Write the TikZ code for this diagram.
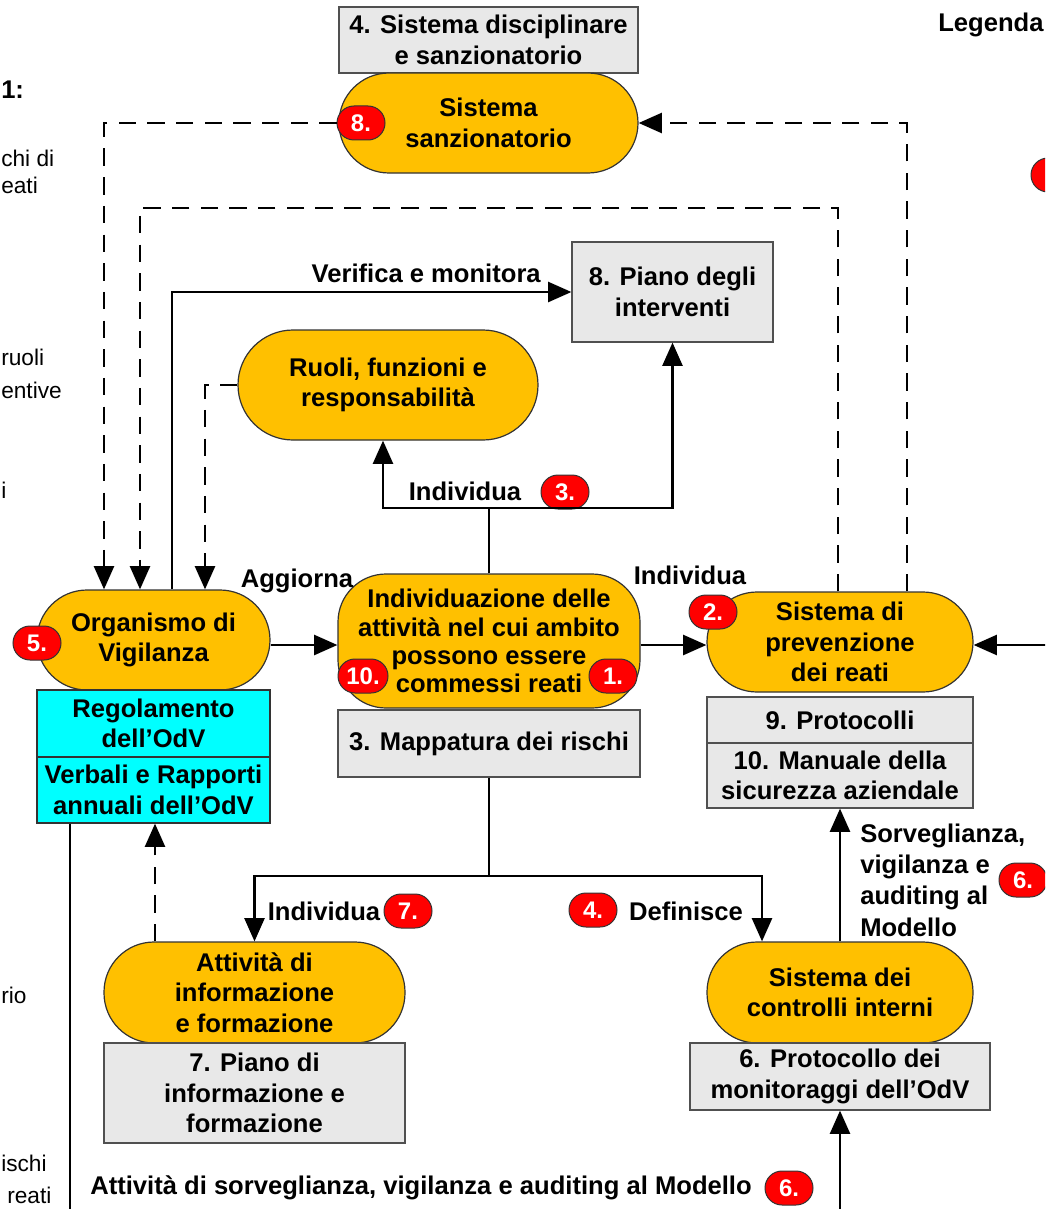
\documentclass[tikz,border=0pt]{standalone}
\usepackage{fontspec}
\setmainfont{Liberation Sans}
\usetikzlibrary{arrows.meta,calc}
\definecolor{orng}{RGB}{255,192,0}
\definecolor{lgray}{RGB}{232,232,232}
\definecolor{bgray}{RGB}{80,80,80}
\definecolor{cyanbox}{RGB}{0,255,255}
\definecolor{redb}{RGB}{255,0,0}
\begin{document}
\begin{tikzpicture}[x=0.75pt,y=-0.75pt,
 every node/.style={font=\bfseries\fontsize{19.2}{23}\selectfont, inner sep=0pt, align=center},
 graybox/.style={draw=bgray, line width=0.9pt, fill=lgray, rectangle},
 cyanbx/.style={draw=black!80, line width=0.9pt, fill=cyanbox, rectangle},
 pill/.style={draw=black!80, line width=0.9pt, fill=orng, rectangle, rounded corners=#1},
 pill/.default=37.5pt,
 badge/.style={draw=black!80, line width=0.75pt, fill=redb, text=white, rectangle, minimum width=36pt, minimum height=25.5pt, rounded corners=12.75pt, font=\bfseries\fontsize{18}{20}\selectfont},
 conn/.style={line width=1.95pt, black},
 arr/.style={conn, -{Triangle[length=17.5pt,width=15pt]}},
 dsh/.style={conn, dash pattern=on 13pt off 8.5pt},
 darr/.style={dsh, -{Triangle[length=17.5pt,width=15pt]}},
 frag/.style={font=\fontsize{17}{20}\selectfont, anchor=west}
]
\useasboundingbox (0,0) rectangle (1045,1209);
\clip (0,0) rectangle (1045,1209);

% main nodes
\node[graybox, minimum width=224.25pt, minimum height=49.5pt] (b4) at (488.5,40) {4. Sistema disciplinare\\e sanzionatorio};
\node[pill, minimum width=224.25pt, minimum height=75pt] (sanz) at (488.5,123) {Sistema\\sanzionatorio};
\node[graybox, minimum width=150.75pt, minimum height=75pt] (piano8) at (672.5,292) {8. Piano degli\\interventi};
\node[pill=41.25pt, minimum width=225pt, minimum height=82.5pt] (ruoli) at (388,385) {Ruoli, funzioni e\\responsabilità};
\node[pill, minimum width=174.75pt, minimum height=75pt] (odv) at (153.5,640) {Organismo di\\Vigilanza};
\node[cyanbx, minimum width=174.75pt, minimum height=50.25pt] (reg) at (153.5,723.5) {Regolamento\\dell’OdV};
\node[cyanbx, minimum width=174.75pt, minimum height=49.5pt] (verb) at (153.5,790) {Verbali e Rapporti\\annuali dell’OdV};
\node[pill=36pt, minimum width=226.5pt, minimum height=100.5pt, font=\bfseries\fontsize{19.2}{21.2}\selectfont] (indiv) at (489,641) {Individuazione delle\\attività nel cui ambito\\possono essere\\commessi reati};
\node[graybox, minimum width=226.5pt, minimum height=50.25pt] (mapp) at (489,743.5) {3. Mappatura dei rischi};
\node[pill, minimum width=199.5pt, minimum height=75pt] (prev) at (840,642) {Sistema di\\prevenzione\\dei reati};
\node[graybox, minimum width=199.5pt, minimum height=34.5pt] (prot9) at (840,720) {9. Protocolli};
\node[graybox, minimum width=199.5pt, minimum height=48.75pt] (man10) at (840,775.5) {10. Manuale della\\sicurezza aziendale};
\node[pill, minimum width=225.75pt, minimum height=75.75pt] (attiv) at (254.5,992.5) {Attività di\\informazione\\e formazione};
\node[graybox, minimum width=225.75pt, minimum height=75pt] (piano7) at (254.5,1093) {7. Piano di\\informazione e\\formazione};
\node[pill, minimum width=199.5pt, minimum height=75.75pt] (contr) at (840,992.5) {Sistema dei\\controlli interni};
\node[graybox, minimum width=225pt, minimum height=50.25pt] (prot6) at (840,1076.5) {6. Protocollo dei\\monitoraggi dell’OdV};

% labels
\node[anchor=east] (lver) at (541,273) {Verifica e monitora};
\node (lind3) at (465,491) {Individua};
\node (lagg) at (297,581) {Aggiorna};
\node (lind2) at (690,575) {Individua};
\node (lind7) at (324,911) {Individua};
\node (ldef) at (686,911) {Definisce};
\node[anchor=west, align=left, font=\bfseries\fontsize{19.2}{23.5}\selectfont] (lsorv) at (860,880) {Sorveglianza,\\vigilanza e\\auditing al\\Modello};
\node (latt) at (421,1188) {Attività di sorveglianza, vigilanza e auditing al Modello};
\node[anchor=west] (leg) at (938,25) {Legenda};

% fragments at left edge
\node[anchor=west] (f0) at (1,90) {1:};
\node[frag] (f1) at (1,158) {chi di};
\node[frag] (f2) at (1,185) {eati};
\node[frag] (f3) at (1,357) {ruoli};
\node[frag] (f4) at (1,390) {entive};
\node[frag] (f5) at (1,490) {i};
\node[frag] (f6) at (1,995) {rio};
\node[frag] (f7) at (1,1163) {ischi};
\node[frag] (f8) at (7,1195) {reati};

% badges
\node[badge] (b8) at (361,123) {8.};
\node[badge] (b5) at (37,643) {5.};
\node[badge, minimum width=37.5pt] (b10) at (363,676) {10.};
\node[badge] (b1) at (613,676) {1.};
\node[badge] (b2) at (713,612) {2.};
\node[badge] (b3) at (565,492) {3.};
\node[badge] (b7) at (408,911) {7.};
\node[badge] (b4b) at (593,910) {4.};
\node[badge] (b6a) at (1023,880) {6.};
\node[badge] (b6b) at (789,1188) {6.};
\node[badge] (bleg) at (1055,175) {};

% coordinates
\coordinate (j3) at (489,508);
\coordinate (j7) at (489,876);
\coordinate (rin) at (1050,645);
\coordinate (bin) at (840,1215);
\coordinate (bout) at (70,1215);

% dashed connectors
\draw[darr] (b8.west) -| (104,0 |- odv.north);
\draw[darr] (907,0 |- prev.north) |- (sanz.east);
\draw[darr] (838,0 |- prev.north) |- (140,208) -- (140,0 |- odv.north);
\draw[darr] (ruoli.west) -| (205,0 |- odv.north);
\draw[darr] (155,0 |- attiv.north) -- (155,0 |- verb.south);

% solid connectors
\draw[arr] (172,0 |- odv.north) |- (piano8.west);
\draw[conn] (indiv.north) -- (j3);
\draw[arr] (j3) -| (383,0 |- ruoli.south);
\draw[arr] (j3) -| (piano8.south);
\draw[arr] (odv.east |- 0,645) -- (indiv.west |- 0,645);
\draw[arr] (indiv.east |- 0,645) -- (prev.west |- 0,645);
\draw[arr] (rin) -- (prev.east |- rin);
\draw[conn] (mapp.south) -- (j7);
\draw[arr] (j7) -| (attiv.north);
\draw[arr] (j7) -| (762,0 |- contr.north);
\draw[arr] (contr.north) -- (man10.south);
\draw[arr] (bin) -- (prot6.south);
\draw[conn] (70,0 |- verb.south) -- (bout);
\end{tikzpicture}
\end{document}
